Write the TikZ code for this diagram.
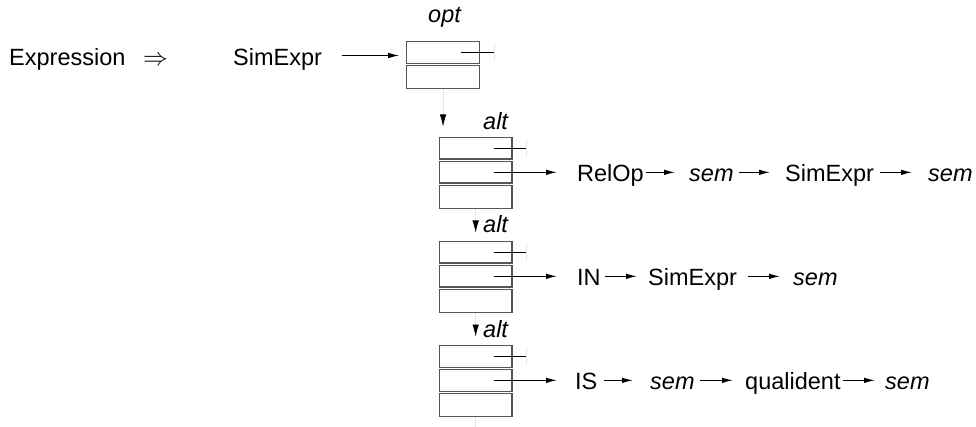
\documentclass[tikz,border=0pt]{standalone}
\usepackage{fontspec}
\setmainfont{Liberation Sans}
\usetikzlibrary{arrows.meta,calc}
\definecolor{boxgray}{RGB}{85,85,85}
\begin{document}
\begin{tikzpicture}[x=1pt,y=-1pt,
  txt/.style={anchor=base west, inner sep=0pt, font=\fontsize{23.5}{28}\selectfont},
  itxt/.style={anchor=base west, inner sep=0pt, font=\fontsize{23.5}{28}\selectfont\itshape},
  cell/.style={draw=boxgray, line width=1.2pt, minimum width=72.5pt, minimum height=21.5pt, inner sep=0pt, anchor=north west},
  lastcell/.style={cell, minimum height=23pt},
  arr/.style={line width=1.1pt, -{Latex[length=11pt,width=5.5pt]}},
  faint/.style={draw=gray!20, line width=0.6pt},
  down/.style={faint, -{Latex[length=12pt,width=6.5pt,color=black]}},
  innerline/.style={line width=1.1pt}
]
\useasboundingbox (0,0) rectangle (976,427);

% row y levels
\coordinate (r1) at (0,55.5);

% opt box
\node[cell] (o1) at (406.2,41.2) {};
\node[lastcell] (o2) at (406.2,65.2) {};
% alt boxes
\node[cell] (a1) at (438.8,137) {};
\node[cell] (a2) at (438.8,161) {};
\node[lastcell] (a3) at (438.8,185) {};
\node[cell] (b1) at (438.8,241) {};
\node[cell] (b2) at (438.8,265) {};
\node[lastcell] (b3) at (438.8,289) {};
\node[cell] (c1) at (438.8,345) {};
\node[cell] (c2) at (438.8,369) {};
\node[lastcell] (c3) at (438.8,393) {};

% labels
\node[itxt] (lopt) at (428,23) {opt};
\node[itxt] (lalt1) at (483,130) {alt};
\node[itxt] (lalt2) at (483,233) {alt};
\node[itxt] (lalt3) at (483,337) {alt};

% row 1
\node[txt] (expr) at (9,65.5) {Expression};
\node[txt] (impl) at (143,65.5) {$\Rightarrow$};
\node[txt] (se0) at (233,65.5) {SimExpr};
\draw[arr] ($(se0.east |- r1)+(20,0)$) -- ($(o1.west |- r1)+(-7,0)$);

% row 2
\node[txt] (relop) at (577,181.75) {RelOp};
\node[itxt] (sem1) at (689,181.75) {sem};
\node[txt] (se1) at (785,181.75) {SimExpr};
\node[itxt] (sem2) at (928,181.75) {sem};
% row 3
\node[txt] (inn) at (577,285.75) {IN};
\node[txt] (se2) at (648,285.75) {SimExpr};
\node[itxt] (sem3) at (793,285.75) {sem};
% row 4
\node[txt] (isn) at (575,389.75) {IS};
\node[itxt] (sem4) at (650,389.75) {sem};
\node[txt] (qual) at (745,389.75) {qualident};
\node[itxt] (sem5) at (885,389.75) {sem};

% inner lines and faint ticks
\foreach \c in {o1,a1,b1,c1}{
  \draw[innerline] ($(\c.center)+(18,0)$) -- ($(\c.center)+(51,0)$);
  \draw[faint] ($(\c.center)+(51,-8.5)$) -- ($(\c.center)+(51,8.5)$);
}

% branch arrows
\draw[arr] ($(a2.center)+(18,0)$) -- ($(relop.west |- a2.center)+(-20,0)$);
\draw[arr] ($(relop.east |- a2.center)+(2,0)$) -- ($(sem1.west |- a2.center)+(-14,0)$);
\draw[arr] ($(sem1.east |- a2.center)+(5,0)$) -- ($(se1.west |- a2.center)+(-15,0)$);
\draw[arr] ($(se1.east |- a2.center)+(6,0)$) -- ($(sem2.west |- a2.center)+(-16,0)$);

\draw[arr] ($(b2.center)+(18,0)$) -- ($(inn.west |- b2.center)+(-20,0)$);
\draw[arr] ($(inn.east |- b2.center)+(4.5,0)$) -- ($(se2.west |- b2.center)+(-11,0)$);
\draw[arr] ($(se2.east |- b2.center)+(11,0)$) -- ($(sem3.west |- b2.center)+(-13,0)$);

\draw[arr] ($(c2.center)+(18,0)$) -- ($(isn.west |- c2.center)+(-18,0)$);
\draw[arr] ($(isn.east |- c2.center)+(6,0)$) -- ($(sem4.west |- c2.center)+(-17,0)$);
\draw[arr] ($(sem4.east |- c2.center)+(5.6,0)$) -- ($(qual.west |- c2.center)+(-12,0)$);
\draw[arr] ($(qual.east |- c2.center)+(2,0)$) -- ($(sem5.west |- c2.center)+(-10,0)$);

% down connectors
\coordinate (tA) at ($(a1.north)+(0,-10.5)$);
\coordinate (tB) at ($(b1.north)+(0,-8.5)$);
\coordinate (tC) at ($(c1.north)+(0,-8.5)$);
\draw[down] (o2.south) -- (o2.south |- tA);
\draw[down] (a3.south) -- (a3.south |- tB);
\draw[down] (b3.south) -- (b3.south |- tC);
\coordinate (cend) at ($(c3.south)+(0,12)$);
\draw[faint] (c3.south) -- (cend);
\end{tikzpicture}
\end{document}
